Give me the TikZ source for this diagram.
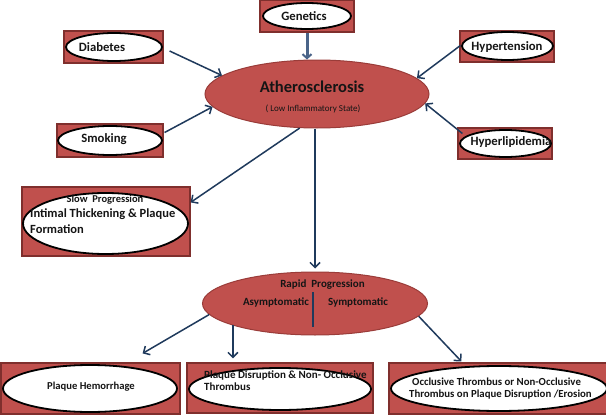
\documentclass[tikz,border=0pt]{standalone}
\usepackage{fontspec}
\setmainfont{Carlito}
\usetikzlibrary{arrows.meta,shapes.geometric}
\definecolor{redfill}{HTML}{C0504D}
\definecolor{redline}{HTML}{7F2F2D}
\definecolor{ellline}{HTML}{9A3C39}
\definecolor{arrcol}{HTML}{1F3A5C}
\definecolor{gencol}{HTML}{4A6489}
\definecolor{txt}{HTML}{151515}
\tikzset{
  redbox/.style={draw=redline, line width=1.2pt, fill=redfill, rectangle, inner sep=0pt},
  whiteell/.style={draw=black, line width=1.8pt, fill=white, ellipse, inner sep=0pt},
  bigell/.style={draw=ellline, line width=1pt, fill=redfill, ellipse, inner sep=0pt},
  lbl/.style={text=txt, font=\bfseries\fontsize{12.7}{14}\selectfont, inner sep=0pt},
  arr/.style={draw=arrcol, line width=1.5pt, -{Straight Barb[length=5pt,width=10pt,line width=1.5pt]}},
  garr/.style={draw=gencol, line width=3pt, -{Straight Barb[length=4pt,width=9pt,line width=2pt]}},
}
\begin{document}
\begin{tikzpicture}[x=1pt,y=-1pt]
\clip (0,0) rectangle (606,415);
\fill[white] (0,0) rectangle (606,415);

% risk factor boxes
\node[redbox, minimum width=94pt, minimum height=32pt] (gen) at (307,16) {};
\node[whiteell, minimum width=88pt, minimum height=26pt] (gen-e) at (307,16) {};
\node[lbl] (gen-t) at (304,16) {Genetics};

\node[redbox, minimum width=99pt, minimum height=32pt] (dia) at (113.5,47) {};
\node[whiteell, minimum width=96pt, minimum height=28pt] (dia-e) at (114,47) {};
\node[lbl] (dia-t) at (102,47) {Diabetes};

\node[redbox, minimum width=106pt, minimum height=33pt] (smk) at (110,140.5) {};
\node[whiteell, minimum width=104pt, minimum height=29pt] (smk-e) at (110,140.5) {};
\node[lbl] (smk-t) at (104,139) {Smoking};

\node[redbox, minimum width=94pt, minimum height=31pt] (hyp) at (507,46.5) {};
\node[whiteell, minimum width=91pt, minimum height=28pt] (hyp-e) at (507.5,46) {};
\node[lbl] (hyp-t) at (507,47) {Hypertension};

\node[redbox, minimum width=94pt, minimum height=31pt] (hlp) at (505,143.5) {};
\node[whiteell, minimum width=91pt, minimum height=27pt] (hlp-e) at (505.5,143.5) {};
\node[lbl] (hlp-t) at (511,142) {Hyperlipidemia};

% central ellipse
\node[bigell, minimum width=224pt, minimum height=68pt] (ath) at (317,94) {};
\node[text=txt, font=\bfseries\fontsize{16.5}{19}\selectfont, inner sep=0pt] (ath-t) at (312,87) {Atherosclerosis};
\node[text=txt, font=\fontsize{9}{10}\selectfont, inner sep=0pt] (ath-s) at (313,109) {( Low Inflammatory State)};

% slow progression
\node[redbox, minimum width=168pt, minimum height=69pt] (slow) at (106,221.5) {};
\node[whiteell, minimum width=165pt, minimum height=61pt] (slow-e) at (105.5,223.5) {};
\node[lbl, font=\bfseries\fontsize{10.5}{12}\selectfont] (slow-h) at (105,200) {Slow~~Progression};
\node[lbl, font=\bfseries\fontsize{12.5}{16}\selectfont, align=left, anchor=north west] (slow-t) at (30,208.5) {Intimal Thickening \& Plaque\\Formation};

% rapid progression
\node[bigell, minimum width=225pt, minimum height=63pt] (rap) at (315,303.5) {};
\node[lbl, font=\bfseries\fontsize{11}{12}\selectfont] (rap-h) at (322.5,285) {Rapid~~Progression};
\node[lbl, font=\bfseries\fontsize{11}{12}\selectfont] (rap-a) at (276,302) {Asymptomatic};
\node[lbl, font=\bfseries\fontsize{11}{12}\selectfont] (rap-s) at (358,302) {Symptomatic};
\coordinate (div1) at (313,292);
\coordinate (div2) at (313,327);
\draw[draw=arrcol, line width=1.8pt] (div1) -- (div2);

% outcome boxes
\node[redbox, minimum width=179pt, minimum height=51pt] (hem) at (90.5,388.5) {};
\node[whiteell, minimum width=174pt, minimum height=47pt] (hem-e) at (90,388.5) {};
\node[lbl, font=\bfseries\fontsize{10.6}{12}\selectfont] (hem-t) at (91,387) {Plaque Hemorrhage};

\node[redbox, minimum width=186pt, minimum height=50pt] (dis) at (280,388) {};
\node[whiteell, minimum width=182pt, minimum height=42pt] (dis-e) at (280,389) {};
\node[lbl, font=\bfseries\fontsize{11}{12}\selectfont, align=left, anchor=west] (dis-t) at (204,381) {Plaque Disruption \& Non- Occlusive\\Thrombus};

\node[redbox, minimum width=223pt, minimum height=51pt] (occ) at (500.5,388.5) {};
\node[whiteell, minimum width=216pt, minimum height=45pt] (occ-e) at (499,388.5) {};
\node[lbl, font=\bfseries\fontsize{10.8}{12}\selectfont, align=left, anchor=west] (occ-t) at (409,389) {\hspace*{3pt}Occlusive Thrombus or Non-Occlusive\\Thrombus on Plaque Disruption /Erosion};

% connectors
\draw[garr] (gen.south) -- (gen.south |- ath.north);
\draw[arr] (dia.east) ++(6,4) -- (ath.169);
\draw[arr] (smk.east) ++(1,-8) -- (ath.187);
\draw[arr] (hyp.west) ++(1,-1) -- (ath.9);
\draw[arr] (hlp.west) ++(5,-10) -- (ath.-5);
\draw[arr] (ath.243) -- ([shift={(0,16)}]slow.north east);
\draw[arr, shorten >=3pt] (rap.north |- ath.south) -- (rap.north);
\draw[arr] (rap.186) -- ([shift={(-38,-9)}]hem.north east);
\draw[arr, shorten >=4pt] (rap.195.6) -- (rap.195.6 |- dis.north);
\draw[arr] (rap.-7) -- ([shift={(73,-1)}]occ.north west);
\end{tikzpicture}
\end{document}
